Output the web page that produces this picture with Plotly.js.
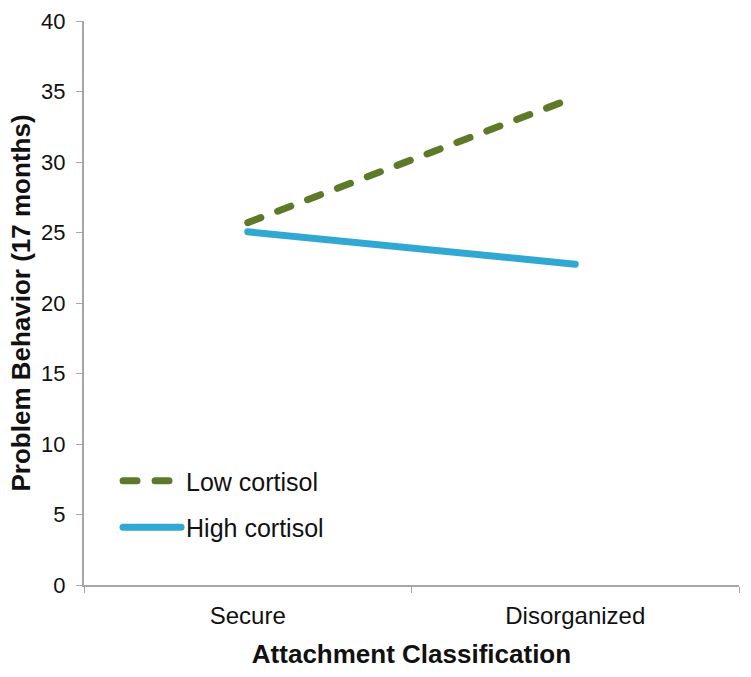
<!DOCTYPE html>
<html>
<head>
<meta charset="utf-8">
<script src="https://cdn.plot.ly/plotly-3.0.1.min.js"></script>
<style>
html,body{margin:0;padding:0;background:#fff;}
#chart{width:751px;height:677px;}
.js-line{stroke-linecap:round;}
</style>
</head>
<body>
<div id="chart"></div>
<script>
const categories = ["Secure", "Disorganized"];
const lowCortisol = [25.7, 34.6];
const highCortisol = [25.05, 22.75];
const seriesNames = ["Low cortisol", "High cortisol"];
const yTitle = "Problem Behavior (17 months)";
const xTitle = "Attachment Classification";

const traces = [
  {x: categories, y: lowCortisol, name: seriesNames[0], type: "scatter", mode: "lines",
   legendgroup: "low",
   line: {color: "#5E7A28", width: 7, dash: "14px,18px"}},
  {x: categories, y: highCortisol, name: seriesNames[1], type: "scatter", mode: "lines",
   legendgroup: "high",
   line: {color: "#31A8D2", width: 7}}
];

const layout = {
  width: 751, height: 677,
  margin: {l: 84, r: 12, t: 21, b: 92},
  paper_bgcolor: "#fff", plot_bgcolor: "#fff",
  font: {family: "Liberation Sans, Arial, sans-serif", color: "#111", size: 22},
  showlegend: true,
  legend: {x: 0.052, y: 0.225, xanchor: "left", yanchor: "top", bgcolor: "rgba(0,0,0,0)",
           font: {size: 25, color: "#111"}, itemwidth: 58, tracegroupgap: 11},
  xaxis: {
    type: "category", range: [-0.5, 1.5], tickson: "boundaries",
    showline: true, linecolor: "#A6A6A6", linewidth: 2,
    ticks: "outside", ticklen: 6, tickcolor: "#A6A6A6", tickwidth: 1,
    showgrid: false, zeroline: false,
    tickfont: {size: 24}, ticklabelstandoff: 8,
    title: {text: xTitle, font: {size: 26, weight: "bold", color: "#111"}, standoff: 17}
  },
  yaxis: {
    range: [0, 40], dtick: 5, tick0: 0,
    showline: true, linecolor: "#A6A6A6", linewidth: 2,
    ticks: "outside", ticklen: 6, tickcolor: "#A6A6A6", tickwidth: 1,
    showgrid: false, zeroline: false,
    tickfont: {size: 22}, ticklabelstandoff: 6,
    title: {text: yTitle, font: {size: 26, weight: "bold", color: "#111"}, standoff: 3}
  }
};

Plotly.newPlot("chart", traces, layout, {displayModeBar: false, staticPlot: true});
</script>
</body>
</html>
